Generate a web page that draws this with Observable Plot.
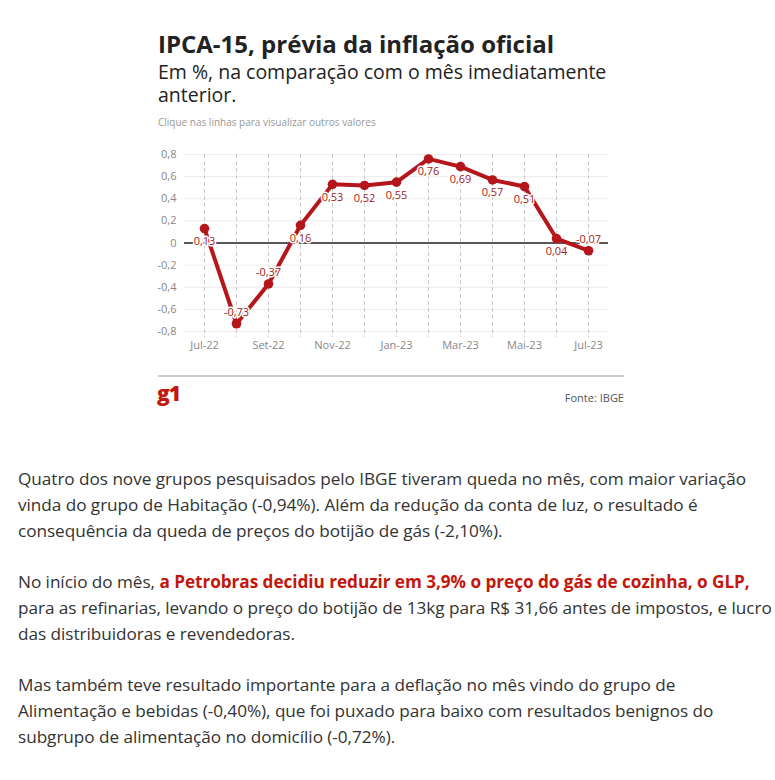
<!DOCTYPE html>
<html>
<head>
<meta charset="utf-8">
<script src="https://cdn.jsdelivr.net/npm/d3@7"></script>
<script src="https://cdn.jsdelivr.net/npm/@observablehq/plot@0.6"></script>
<style>
  html, body { margin: 0; padding: 0; background: #fff; }
  body { width: 775px; height: 780px; position: relative; overflow: hidden; font-family: "Open Sans", sans-serif; }
  #title { position: absolute; left: 158px; top: 29px; font-size: 24px; font-weight: 700; color: #222; line-height: 30px; margin: 0; white-space: nowrap; }
  .sub { position: absolute; left: 158px; font-size: 19.5px; color: #222; line-height: 22px; margin: 0; white-space: nowrap; }
  #sub1 { top: 61px; }
  #sub2 { top: 84px; }
  #note { position: absolute; left: 158px; top: 115px; font-size: 10px; color: #999; white-space: nowrap; }
  #chart { position: absolute; left: 140px; top: 140px; }
  #rule { position: absolute; left: 158px; top: 375px; width: 466px; height: 2px; background: #ccc; }
  #logo { position: absolute; left: 157px; top: 379px; font-size: 21px; font-weight: 800; color: #c4170c; letter-spacing: -1px; }
  #source { position: absolute; right: 151px; top: 390px; font-size: 11px; color: #555; }
  #body { position: absolute; left: 18px; top: 466px; width: 757px; font-size: 17.2px; letter-spacing: -0.05px; line-height: 25.8px; color: #333; }
  #body p { margin: 0 0 25.8px 0; white-space: nowrap; }
  #body b { color: #c4170c; }
</style>
</head>
<body>
<p id="title">IPCA-15, prévia da inflação oficial</p>
<p class="sub" id="sub1">Em %, na comparação com o mês imediatamente</p>
<p class="sub" id="sub2">anterior.</p>
<div id="note">Clique nas linhas para visualizar outros valores</div>
<div id="chart"></div>
<div id="rule"></div>
<div id="logo">g1</div>
<div id="source">Fonte: IBGE</div>
<div id="body">
  <p>Quatro dos nove grupos pesquisados pelo IBGE tiveram queda no mês, com maior variação<br>vinda do grupo de Habitação (-0,94%). Além da redução da conta de luz, o resultado é<br>consequência da queda de preços do botijão de gás (-2,10%).</p>
  <p>No início do mês, <b>a Petrobras decidiu reduzir em 3,9% o preço do gás de cozinha, o GLP,</b><br>para as refinarias, levando o preço do botijão de 13kg para R$ 31,66 antes de impostos, e lucro<br>das distribuidoras e revendedoras.</p>
  <p>Mas também teve resultado importante para a deflação no mês vindo do grupo de<br>Alimentação e bebidas (-0,40%), que foi puxado para baixo com resultados benignos do<br>subgrupo de alimentação no domicílio (-0,72%).</p>
</div>
<script>
const months = ["Jul-22","Ago-22","Set-22","Out-22","Nov-22","Dez-22","Jan-23","Fev-23","Mar-23","Abr-23","Mai-23","Jun-23","Jul-23"];
const values = [0.13, -0.73, -0.37, 0.16, 0.53, 0.52, 0.55, 0.76, 0.69, 0.57, 0.51, 0.04, -0.07];
const xTickLabels = ["Jul-22","Set-22","Nov-22","Jan-23","Mar-23","Mai-23","Jul-23"];
const yTicks = [-0.8, -0.6, -0.4, -0.2, 0, 0.2, 0.4, 0.6, 0.8];
const labelsAbove = ["Ago-22","Set-22","Jul-23"];

const data = months.map((m, i) => ({month: m, value: values[i]}));
const fmt = v => String(+v.toFixed(2)).replace(".", ",");
const red = "#b5161b";

const chart = Plot.plot({
  width: 484,
  height: 222,
  marginLeft: 44,
  marginRight: 16,
  marginTop: 14,
  marginBottom: 31,
  style: {fontFamily: "Open Sans, sans-serif", fontSize: "11px", color: "#888", background: "transparent"},
  x: {type: "point", domain: months, padding: 0.5, label: null},
  y: {domain: [-0.8, 0.8], label: null},
  marks: [
    Plot.ruleY(yTicks, {stroke: "#ececec", strokeWidth: 1}),
    Plot.ruleX(months, {x: d => d, stroke: "#c8c8c8", strokeDasharray: "4,3", strokeWidth: 1, insetBottom: -6}),
    Plot.axisY(yTicks, {tickSize: 0, tickPadding: 8, tickFormat: fmt, fill: "#888", fontSize: 11}),
    Plot.axisX(xTickLabels, {tickSize: 0, tickPadding: 10, fill: "#888", fontSize: 11}),
    Plot.ruleY([0], {stroke: "#222", strokeWidth: 1.6}),
    Plot.line(data, {x: "month", y: "value", stroke: red, strokeWidth: 4}),
    Plot.dot(data, {x: "month", y: "value", fill: red, r: 4.8}),
    Plot.text(data, {
      x: "month", y: "value", text: d => fmt(d.value),
      filter: d => !labelsAbove.includes(d.month),
      dy: 13, fill: "#a3211b", fontSize: 11, stroke: "white", strokeWidth: 3
    }),
    Plot.text(data, {
      x: "month", y: "value", text: d => fmt(d.value),
      filter: d => labelsAbove.includes(d.month),
      dy: -11, fill: "#a3211b", fontSize: 11, stroke: "white", strokeWidth: 3
    })
  ]
});
document.getElementById("chart").appendChild(chart);
</script>
</body>
</html>
